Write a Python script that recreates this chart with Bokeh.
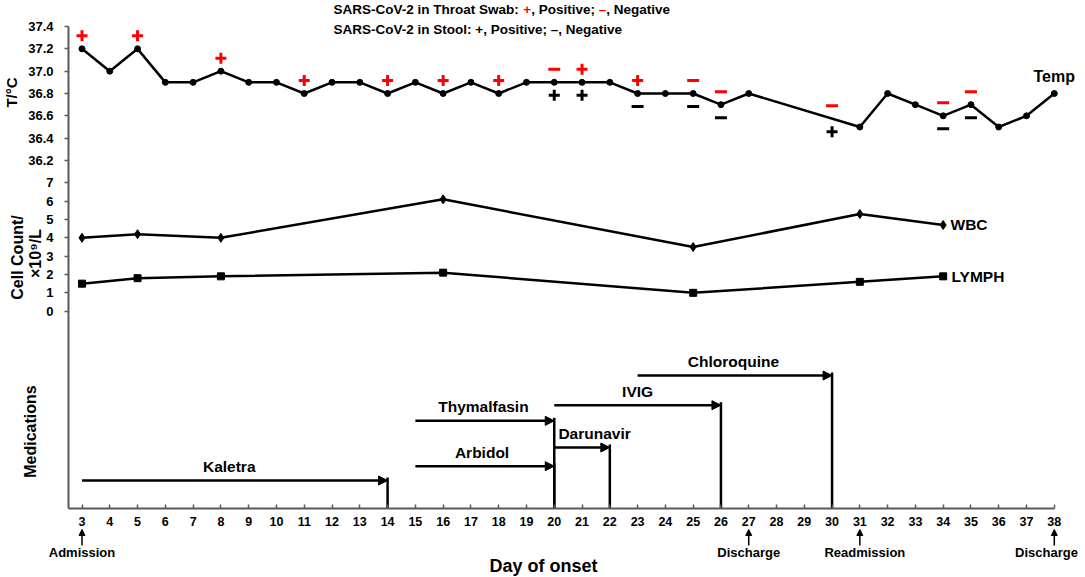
import math
import numpy as np
from bokeh.plotting import figure
from bokeh.models import Range1d, LinearAxis, FixedTicker, Label, Arrow, NormalHead
from bokeh.embed import file_html
from bokeh.resources import INLINE

# ---------------- data ----------------
temp_days = [3, 4, 5, 6, 7, 8, 9, 10, 11, 12, 13, 14, 15, 16, 17, 18, 19, 20, 21, 22,
             23, 24, 25, 26, 27, 31, 32, 33, 34, 35, 36, 37, 38]
temp_vals = [37.2, 37.0, 37.2, 36.9, 36.9, 37.0, 36.9, 36.9, 36.8, 36.9, 36.9, 36.8,
             36.9, 36.8, 36.9, 36.8, 36.9, 36.9, 36.9, 36.9, 36.8, 36.8, 36.8, 36.7,
             36.8, 36.5, 36.8, 36.7, 36.6, 36.7, 36.5, 36.6, 36.8]

lab_days = [3, 5, 8, 16, 25, 31, 34]
wbc_vals = [4.0, 4.2, 4.0, 6.1, 3.5, 5.3, 4.7]
lymph_vals = [1.5, 1.8, 1.9, 2.1, 1.0, 1.6, 1.9]

throat_days = [3, 5, 8, 11, 14, 16, 18, 20, 21, 23, 25, 26, 30, 34, 35]
throat_result = ["+", "+", "+", "+", "+", "+", "+", "-", "+", "+", "-", "-", "-", "-", "-"]
stool_days = [20, 21, 23, 25, 26, 30, 34, 35]
stool_result = ["+", "+", "-", "-", "-", "+", "-", "-"]

med_names = ["Kaletra", "Arbidol", "Thymalfasin", "Darunavir", "IVIG", "Chloroquine"]
med_start = [3, 15, 15, 20, 20, 23]
med_end = [14, 20, 20, 22, 26, 30]

event_days = [3, 27, 31, 38]
event_names = ["Admission", "Discharge", "Readmission", "Discharge"]

day_ticks = list(range(3, 39))
temp_ticks = [36.2, 36.4, 36.6, 36.8, 37.0, 37.2, 37.4]
cell_ticks = [0, 1, 2, 3, 4, 5, 6, 7]

# ---------------- layout helpers ----------------
FONT = "Liberation Sans"
W, H = 1085, 577
X3 = 81.5            # page x of day 3
PX_PER_DAY = 27.78
AXIS_PY = 508        # page y of the x axis
YAXIS_PX = 68        # page x of the y axis


def day_at(px):
    return 3 + (px - X3) / PX_PER_DAY


def main_at(py):
    return (AXIS_PY - py) * 3.0


# main y range: 1 unit = 1/3 px, 0 at the x axis
TEMP_TOP, TEMP_TOP_MAIN, TEMP_UNITS_PER_DEG = 37.4, 1446.0, 335.0
CELL_ZERO_MAIN, CELL_UNITS = 592.0, 55.0


def temp_to_main(t):
    return TEMP_TOP_MAIN - (TEMP_TOP - t) * TEMP_UNITS_PER_DEG


def main_to_temp(m):
    return TEMP_TOP - (TEMP_TOP_MAIN - m) / TEMP_UNITS_PER_DEG


def cell_to_main(c):
    return CELL_ZERO_MAIN + CELL_UNITS * c


def main_to_cell(m):
    return (m - CELL_ZERO_MAIN) / CELL_UNITS


Y0, Y1 = main_at(H), main_at(0)
p = figure(width=W, height=H, output_backend="svg", toolbar_location=None,
           x_range=Range1d(day_at(0), day_at(W)), y_range=Range1d(Y0, Y1),
           x_axis_type=None, y_axis_type=None,
           min_border_left=0, min_border_right=0, min_border_top=0, min_border_bottom=0)
p.outline_line_color = None
p.background_fill_color = "white"
p.border_fill_color = "white"

p.extra_y_ranges = {
    "temp": Range1d(main_to_temp(Y0), main_to_temp(Y1)),
    "cell": Range1d(main_to_cell(Y0), main_to_cell(Y1)),
}

AXIS_COLOR = "#5a5a5a"

# x axis
xaxis = LinearAxis(ticker=FixedTicker(ticks=day_ticks), bounds=(day_at(YAXIS_PX), 38),
                   fixed_location=0)
xaxis.axis_line_color = AXIS_COLOR
xaxis.axis_line_width = 2
xaxis.major_tick_line_color = AXIS_COLOR
xaxis.major_tick_line_width = 1.5
xaxis.major_tick_in = 4
xaxis.major_tick_out = 0
xaxis.minor_tick_line_color = None
xaxis.major_label_standoff = 8
xaxis.major_label_text_font = FONT
xaxis.major_label_text_font_style = "bold"
xaxis.major_label_text_font_size = "12.5px"
xaxis.major_label_text_color = "black"
p.add_layout(xaxis, "below")

# y axis (one line carrying temperature and cell-count ticks)
ytick_pos, ytick_lab = [], {}
for t in temp_ticks:
    pos = int(round(temp_to_main(t)))
    ytick_pos.append(pos)
    ytick_lab[pos] = f"{t:.1f}"
for c in cell_ticks:
    pos = int(round(cell_to_main(c)))
    ytick_pos.append(pos)
    ytick_lab[pos] = f"{c}"
yaxis = LinearAxis(ticker=FixedTicker(ticks=sorted(ytick_pos)), bounds=(0, TEMP_TOP_MAIN),
                   major_label_overrides=ytick_lab, fixed_location=day_at(YAXIS_PX))
yaxis.axis_line_color = AXIS_COLOR
yaxis.axis_line_width = 2
yaxis.major_tick_line_color = AXIS_COLOR
yaxis.major_tick_line_width = 1.5
yaxis.major_tick_in = 0
yaxis.major_tick_out = 4
yaxis.minor_tick_line_color = None
yaxis.major_label_standoff = 11
yaxis.major_label_text_font = FONT
yaxis.major_label_text_font_style = "bold"
yaxis.major_label_text_font_size = "13px"
yaxis.major_label_text_color = "black"
p.add_layout(yaxis, "left")

# ---------------- temperature ----------------
p.line(temp_days, temp_vals, y_range_name="temp", line_color="black", line_width=2.5)
p.scatter(temp_days, temp_vals, y_range_name="temp", marker="circle", size=6,
          fill_color="black", line_color="black")

PX_PER_DEG = TEMP_UNITS_PER_DEG / 3.0
OFF = 13.0 / PX_PER_DEG


def temp_at(d):
    return float(np.interp(d, temp_days, temp_vals))


for days, results, color, sign in [(throat_days, throat_result, "#ff0000", 1),
                                   (stool_days, stool_result, "black", -1)]:
    for mk, name in [("+", "cross"), ("-", "dash")]:
        xs = [d for d, r in zip(days, results) if r == mk]
        ys = [temp_at(d) + sign * OFF for d in xs]
        p.scatter(xs, ys, y_range_name="temp", marker=name,
                  size=11 if mk == "+" else 12, line_width=3, line_color=color)

# ---------------- cell counts ----------------
p.line(lab_days, wbc_vals, y_range_name="cell", line_color="black", line_width=2.5)
p.scatter(lab_days, wbc_vals, y_range_name="cell", marker="diamond", size=9,
          fill_color="black", line_color="black")
p.line(lab_days, lymph_vals, y_range_name="cell", line_color="black", line_width=2.5)
p.scatter(lab_days, lymph_vals, y_range_name="cell", marker="square", size=7,
          fill_color="black", line_color="black")


def add_label(px, py, text, size, align="center", angle=0.0, color="black"):
    p.add_layout(Label(x=day_at(px), y=main_at(py), text=text, text_font=FONT,
                       text_font_style="bold", text_font_size=size, text_color=color,
                       text_align=align, text_baseline="middle", angle=angle))


add_label(1033, 76, "Temp", "16px", align="left")
add_label(950, 224, "WBC", "15.5px", align="left")
add_label(951, 276, "LYMPH", "15.5px", align="left")

# ---------------- medications ----------------
lane = {"Kaletra": 84, "Arbidol": 127, "Darunavir": 183, "Thymalfasin": 263,
        "IVIG": 310, "Chloroquine": 399}
label_pos = {"Kaletra": (8.3, "center"), "Arbidol": (17.4, "center"),
             "Thymalfasin": (17.45, "center"), "Darunavir": (20.15, "left"),
             "IVIG": (23.0, "center"), "Chloroquine": (26.45, "center")}
for name, s, e in zip(med_names, med_start, med_end):
    y = lane[name]
    p.add_layout(Arrow(end=NormalHead(size=9, fill_color="black", line_color="black"),
                       x_start=s, y_start=y, x_end=e, y_end=y,
                       line_width=2.5, line_color="black"))
    p.segment(x0=[e], y0=[0], x1=[e], y1=[y + 9], line_color="black", line_width=2.5)
    lx, al = label_pos[name]
    p.add_layout(Label(x=lx, y=y + 42, text=name, text_font=FONT, text_font_style="bold",
                       text_font_size="15.5px", text_align=al, text_baseline="middle",
                       text_color="black"))

# ---------------- events under the axis ----------------
for d, name in zip(event_days, event_names):
    p.add_layout(Arrow(end=NormalHead(size=6, fill_color="black", line_color="black"),
                       x_start=d, y_start=main_at(545), x_end=d, y_end=main_at(529),
                       line_width=1.5, line_color="black"))
    cx = X3 + (d - 3) * PX_PER_DAY
    if name == "Readmission":
        cx += 5
    if d == 38:
        cx = min(cx, 1046)
    add_label(cx, 552, name, "13px")

add_label(543, 565, "Day of onset", "18px")

# ---------------- axis titles ----------------
add_label(11, 92, "T/°C", "15px", angle=math.pi / 2)
add_label(17, 257, "Cell Count/", "16px", angle=math.pi / 2)
add_label(35, 253, "×10⁹/L", "16px", angle=math.pi / 2)
add_label(30, 431, "Medications", "16px", angle=math.pi / 2)

# ---------------- legend text at the top ----------------
L1Y, L2Y = 8.5, 29
pieces = [("SARS-CoV-2 in Throat Swab: ", 333.0, "black"), ("+", 522.8, "#ff0000"),
          (", Positive; ", 530.7, "black"), ("–", 598.2, "#ff0000"),
          (", Negative", 605.7, "black")]
for txt, px, col in pieces:
    add_label(px, L1Y, txt, "13.5px", align="left", color=col)
add_label(333.0, L2Y, "SARS-CoV-2 in Stool: +, Positive; –, Negative", "13.5px", align="left")

open("out.html", "w").write(file_html(p, INLINE))
